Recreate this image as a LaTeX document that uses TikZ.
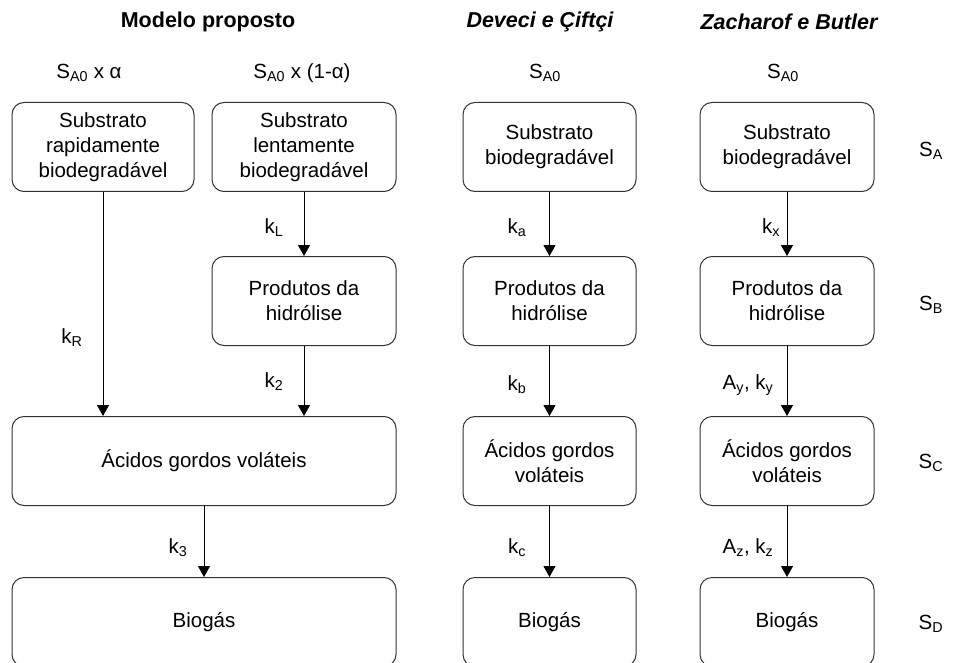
\documentclass[tikz,border=0pt]{standalone}
\usepackage{fontspec}
\setmainfont{Liberation Sans}
\usetikzlibrary{arrows.meta}
\newcommand\fsz{\fontsize{20.5}{25}\selectfont}
\newcommand\tsz{\fontsize{21.5}{25}\selectfont}
\newcommand\sbs[1]{\textsubscript{#1}}
\begin{document}
\begin{tikzpicture}[x=1pt,y=-1pt,
  box/.style={draw=black!80, line width=1pt, rounded corners=12pt, minimum height=89pt, inner sep=0pt, align=center, font=\fsz},
  lbl/.style={inner sep=0pt, font=\fsz},
  ttl/.style={inner sep=0pt, font=\tsz\bfseries},
  arr/.style={draw=black, line width=1pt, -{Triangle[width=12pt,length=11pt]}}]
\path[use as bounding box, clip] (0,0) rectangle (971,663);
% titles
\node[ttl] (t1) at (208,22) {Modelo proposto};
\node[ttl, font=\tsz\bfseries\itshape] (t2) at (540,22) {Deveci e Çiftçi};
\node[ttl, font=\tsz\bfseries\itshape] (t3) at (789,22) {Zacharof e Butler};
% initial
\node[lbl] (s1) at (89,73) {S\sbs{A0} x α};
\node[lbl] (s2) at (302,73) {S\sbs{A0} x (1-α)};
\node[lbl] (s3) at (545,73) {S\sbs{A0}};
\node[lbl] (s4) at (783,73) {S\sbs{A0}};
% row 1
\node[box, minimum width=182pt] (A1) at (103,147) {Substrato\\rapidamente\\biodegradável};
\node[box, minimum width=184pt] (A2) at (304,147) {Substrato\\lentamente\\biodegradável};
\node[box, minimum width=173pt] (D1) at (549.5,147) {Substrato\\biodegradável};
\node[box, minimum width=174pt] (Z1) at (787,147) {Substrato\\biodegradável};
% row 2
\node[box, minimum width=184pt] (P2) at (304,301) {Produtos da\\hidrólise};
\node[box, minimum width=173pt] (D2) at (549.5,301) {Produtos da\\hidrólise};
\node[box, minimum width=174pt] (Z2) at (787,301) {Produtos da\\hidrólise};
% row 3
\node[box, minimum width=384pt] (P3) at (204,461) {Ácidos gordos voláteis};
\node[box, minimum width=173pt] (D3) at (549.5,461) {Ácidos gordos\\voláteis};
\node[box, minimum width=174pt] (Z3) at (787,461) {Ácidos gordos\\voláteis};
% row 4
\node[box, minimum width=384pt] (P4) at (204,622) {Biogás};
\node[box, minimum width=173pt] (D4) at (549.5,622) {Biogás};
\node[box, minimum width=174pt] (Z4) at (787,622) {Biogás};
% arrows
\draw[arr] (A1.south) -- (A1.south |- P3.north);
\draw[arr] (A2) -- (P2);
\draw[arr] (P2.south) -- (P2.south |- P3.north);
\draw[arr] (P3) -- (P4);
\draw[arr] (D1) -- (D2);
\draw[arr] (D2) -- (D3);
\draw[arr] (D3) -- (D4);
\draw[arr] (Z1) -- (Z2);
\draw[arr] (Z2) -- (Z3);
\draw[arr] (Z3) -- (Z4);
% rate labels
\node[lbl] (kR) at (72,338) {k\sbs{R}};
\node[lbl] (kL) at (274,228) {k\sbs{L}};
\node[lbl] (k2) at (274,382) {k\sbs{2}};
\node[lbl] (k3) at (178,548) {k\sbs{3}};
\node[lbl] (ka) at (517,228) {k\sbs{a}};
\node[lbl] (kb) at (517,385) {k\sbs{b}};
\node[lbl] (kc) at (517,548) {k\sbs{c}};
\node[lbl] (kx) at (771,228) {k\sbs{x}};
\node[lbl] (ky) at (748,385) {A\sbs{y}, k\sbs{y}};
\node[lbl] (kz) at (748,548) {A\sbs{z}, k\sbs{z}};
% state labels
\node[lbl] (SA) at (931,151) {S\sbs{A}};
\node[lbl] (SB) at (931,305) {S\sbs{B}};
\node[lbl] (SC) at (931,463) {S\sbs{C}};
\node[lbl] (SD) at (931,624) {S\sbs{D}};
\end{tikzpicture}
\end{document}
